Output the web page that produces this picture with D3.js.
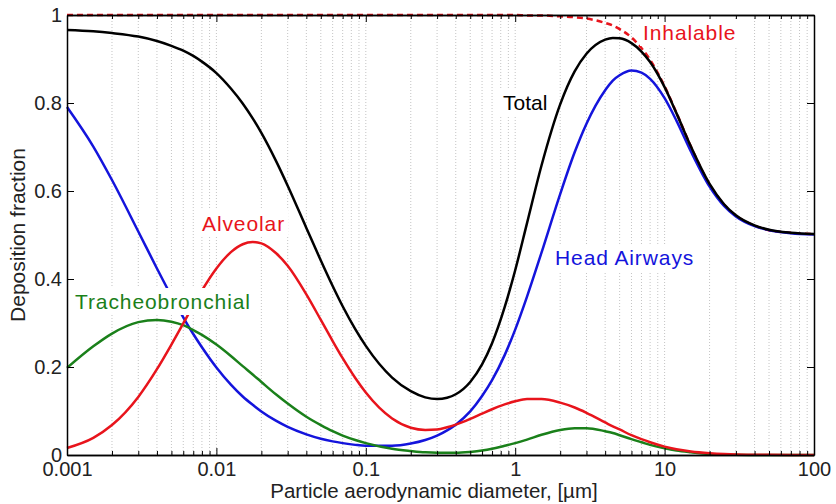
<!DOCTYPE html>
<html>
<head>
<meta charset="utf-8">
<script src="https://cdn.jsdelivr.net/npm/d3@7"></script>
<style>
  body { margin: 0; background: #fff; }
  svg { display: block; font-family: "Liberation Sans", Arial, sans-serif; }
</style>
</head>
<body>
<div id="chart"></div>
<script>
// particle aerodynamic diameter, um
var diam = [0.001, 0.0015, 0.002, 0.003, 0.004, 0.005, 0.006, 0.007, 0.008, 0.01,
            0.0125, 0.015, 0.0175, 0.02, 0.025, 0.03, 0.04, 0.05, 0.06, 0.07,
            0.085, 0.1, 0.15, 0.2, 0.25, 0.3, 0.35, 0.4, 0.5, 0.6,
            0.7, 0.85, 1, 1.2, 1.5, 2, 2.5, 3, 4, 4.5,
            5, 6, 7, 8, 10, 12, 15, 20, 25, 30,
            40, 50, 70, 100];

var inhalable = [1, 1, 1, 1, 1, 1, 1, 1, 1, 1,
                 1, 1, 1, 1, 1, 1, 1, 1, 1, 1,
                 1, 1, 1, 1, 1, 1, 1, 1, 1, 1,
                 1, 1, 1, 0.999, 0.999, 0.997, 0.995, 0.992, 0.982, 0.976,
                 0.968, 0.949, 0.925, 0.898, 0.838, 0.778, 0.701, 0.615, 0.569, 0.544,
                 0.521, 0.511, 0.505, 0.502];

var headAirways = [0.791, 0.701, 0.625, 0.508, 0.424, 0.361, 0.313, 0.275, 0.245, 0.199,
                   0.160, 0.133, 0.114, 0.099, 0.078, 0.064, 0.047, 0.037, 0.031, 0.027,
                   0.023, 0.021, 0.021, 0.026, 0.034, 0.044, 0.056, 0.069, 0.099, 0.134,
                   0.170, 0.227, 0.285, 0.360, 0.460, 0.593, 0.688, 0.753, 0.829, 0.851,
                   0.863, 0.874, 0.869, 0.855, 0.811, 0.760, 0.690, 0.610, 0.566, 0.542,
                   0.520, 0.511, 0.504, 0.501];

var tracheo = [0.198, 0.247, 0.276, 0.302, 0.307, 0.303, 0.295, 0.284, 0.273, 0.251,
               0.225, 0.202, 0.183, 0.166, 0.138, 0.117, 0.087, 0.068, 0.054, 0.044,
               0.034, 0.027, 0.014, 0.009, 0.006, 0.005, 0.005, 0.005, 0.007, 0.010,
               0.014, 0.021, 0.027, 0.035, 0.046, 0.057, 0.061, 0.061, 0.054, 0.050,
               0.045, 0.036, 0.029, 0.023, 0.015, 0.010, 0.006, 0.002, 0.001, 0.0005,
               0.0002, 0, 0, 0];

var alveolar = [0.016, 0.039, 0.068, 0.132, 0.195, 0.251, 0.299, 0.340, 0.374, 0.424,
                0.461, 0.479, 0.484, 0.481, 0.459, 0.430, 0.365, 0.307, 0.259, 0.220,
                0.175, 0.142, 0.083, 0.062, 0.057, 0.058, 0.063, 0.069, 0.082, 0.094,
                0.104, 0.115, 0.122, 0.127, 0.127, 0.119, 0.108, 0.096, 0.074, 0.065,
                0.058, 0.045, 0.036, 0.029, 0.019, 0.013, 0.008, 0.004, 0.002, 0.001,
                0.0005, 0.0003, 0.0001, 0];

var total = [0.966, 0.963, 0.959, 0.951, 0.941, 0.930, 0.919, 0.907, 0.894, 0.868,
             0.833, 0.799, 0.765, 0.732, 0.669, 0.612, 0.516, 0.442, 0.384, 0.338,
             0.286, 0.248, 0.176, 0.145, 0.131, 0.127, 0.130, 0.138, 0.166, 0.206,
             0.254, 0.336, 0.420, 0.527, 0.658, 0.797, 0.872, 0.912, 0.944, 0.948,
             0.947, 0.936, 0.917, 0.893, 0.836, 0.777, 0.701, 0.616, 0.570, 0.545,
             0.522, 0.512, 0.505, 0.502];

var xTicks = [0.001, 0.01, 0.1, 1, 10, 100];
var xTickLabels = ["0.001", "0.01", "0.1", "1", "10", "100"];
var yTicks = [0, 0.2, 0.4, 0.6, 0.8, 1];
var yTickLabels = ["0", "0.2", "0.4", "0.6", "0.8", "1"];

var margin = {top: 15, right: 22, bottom: 49, left: 67},
    width = 836 - margin.left - margin.right,
    height = 504 - margin.top - margin.bottom;

var svg = d3.select("#chart")
    .append("svg")
    .attr("width", 836)
    .attr("height", 504);

var g = svg.append("g")
    .attr("transform", "translate(" + margin.left + "," + margin.top + ")");

var x = d3.scaleLog().domain([0.001, 100]).range([0, width]);
var y = d3.scaleLinear().domain([0, 1]).range([height, 0]);

// minor tick positions 2..9 in each decade
var minor = [];
for (var e = -3; e < 2; e++) {
    for (var k = 2; k <= 9; k++) {
        minor.push(+(k * Math.pow(10, e)).toPrecision(3));
    }
}

// dotted vertical grid
g.append("g")
    .selectAll("line")
    .data(minor.concat(xTicks.slice(1, -1)))
    .enter()
    .append("line")
    .attr("x1", function(d) { return x(d); })
    .attr("x2", function(d) { return x(d); })
    .attr("y1", 0)
    .attr("y2", height)
    .style("stroke", "#c4c4c4")
    .style("stroke-width", 1)
    .style("stroke-dasharray", "1,2");

var line = d3.line()
    .x(function(d) { return x(d[0]); })
    .y(function(d) { return y(d[1]); })
    .curve(d3.curveMonotoneX);

var series = [
    {values: inhalable, color: "#e8141c", dash: "6,4"},
    {values: headAirways, color: "#1414dc"},
    {values: tracheo, color: "#1a801a"},
    {values: alveolar, color: "#e8141c"},
    {values: total, color: "#000000"}
];

series.forEach(function(s) {
    g.append("path")
        .datum(diam.map(function(d, i) { return [d, s.values[i]]; }))
        .attr("d", line)
        .style("fill", "none")
        .style("stroke", s.color)
        .style("stroke-width", 2.5)
        .style("stroke-dasharray", s.dash || null);
});

// curve labels, white boxes behind them
var labels = [
    {text: "Tracheobronchial", px: 8, py: 294, color: "#1a801a"},
    {text: "Alveolar", px: 135, py: 216, color: "#e8141c"},
    {text: "Total", px: 436, py: 95, color: "#000000"},
    {text: "Head Airways", px: 488, py: 250, color: "#1414dc"},
    {text: "Inhalable", px: 576, py: 25, color: "#e8141c"}
];

labels.forEach(function(l) {
    var lg = g.append("g");
    var t = lg.append("text")
        .attr("x", l.px)
        .attr("y", l.py)
        .style("font-size", "21px")
        .style("letter-spacing", l.text == "Total" ? "0px" : "0.9px")
        .style("fill", l.color)
        .text(l.text);
    var b = t.node().getBBox();
    lg.insert("rect", "text")
        .attr("x", b.x - 3)
        .attr("y", b.y - 2)
        .attr("width", b.width + 6)
        .attr("height", b.height + 4)
        .style("fill", "#fff");
});

// axes: ticks inside, box all round
function styleAxis(sel) {
    sel.selectAll("path").style("stroke", "#000").style("stroke-width", 1.5);
    sel.selectAll("line").style("stroke", "#000").style("stroke-width", 1);
    sel.selectAll("text").style("font-size", "20px").style("fill", "#222")
        .style("font-family", "'Liberation Sans', Arial, sans-serif");
}

g.append("g")
    .attr("transform", "translate(0," + height + ")")
    .call(d3.axisBottom(x).tickValues(xTicks)
        .tickFormat(function(d, i) { return xTickLabels[i]; })
        .tickSizeInner(-7).tickSizeOuter(0).tickPadding(7))
    .call(styleAxis);

g.append("g")
    .attr("transform", "translate(0," + height + ")")
    .call(d3.axisBottom(x).tickValues(minor).tickFormat("")
        .tickSizeInner(-4).tickSizeOuter(0))
    .call(styleAxis);

g.append("g")
    .call(d3.axisTop(x).tickValues(xTicks).tickFormat("")
        .tickSizeInner(-7).tickSizeOuter(0))
    .call(styleAxis);

g.append("g")
    .call(d3.axisTop(x).tickValues(minor).tickFormat("")
        .tickSizeInner(-4).tickSizeOuter(0))
    .call(styleAxis);

g.append("g")
    .call(d3.axisLeft(y).tickValues(yTicks)
        .tickFormat(function(d, i) { return yTickLabels[i]; })
        .tickSizeInner(-7).tickSizeOuter(0).tickPadding(5))
    .call(styleAxis);

g.append("g")
    .attr("transform", "translate(" + width + ",0)")
    .call(d3.axisRight(y).tickValues(yTicks).tickFormat("")
        .tickSizeInner(-7).tickSizeOuter(0))
    .call(styleAxis);

// axis titles
svg.append("text")
    .attr("x", 434)
    .attr("y", 498)
    .attr("text-anchor", "middle")
    .style("font-size", "20.5px")
    .style("fill", "#222")
    .text("Particle aerodynamic diameter, [\u00b5m]");

svg.append("text")
    .attr("transform", "translate(25," + (margin.top + height / 2) + ") rotate(-90)")
    .attr("text-anchor", "middle")
    .style("font-size", "21px")
    .style("fill", "#222")
    .text("Deposition fraction");
</script>
</body>
</html>
